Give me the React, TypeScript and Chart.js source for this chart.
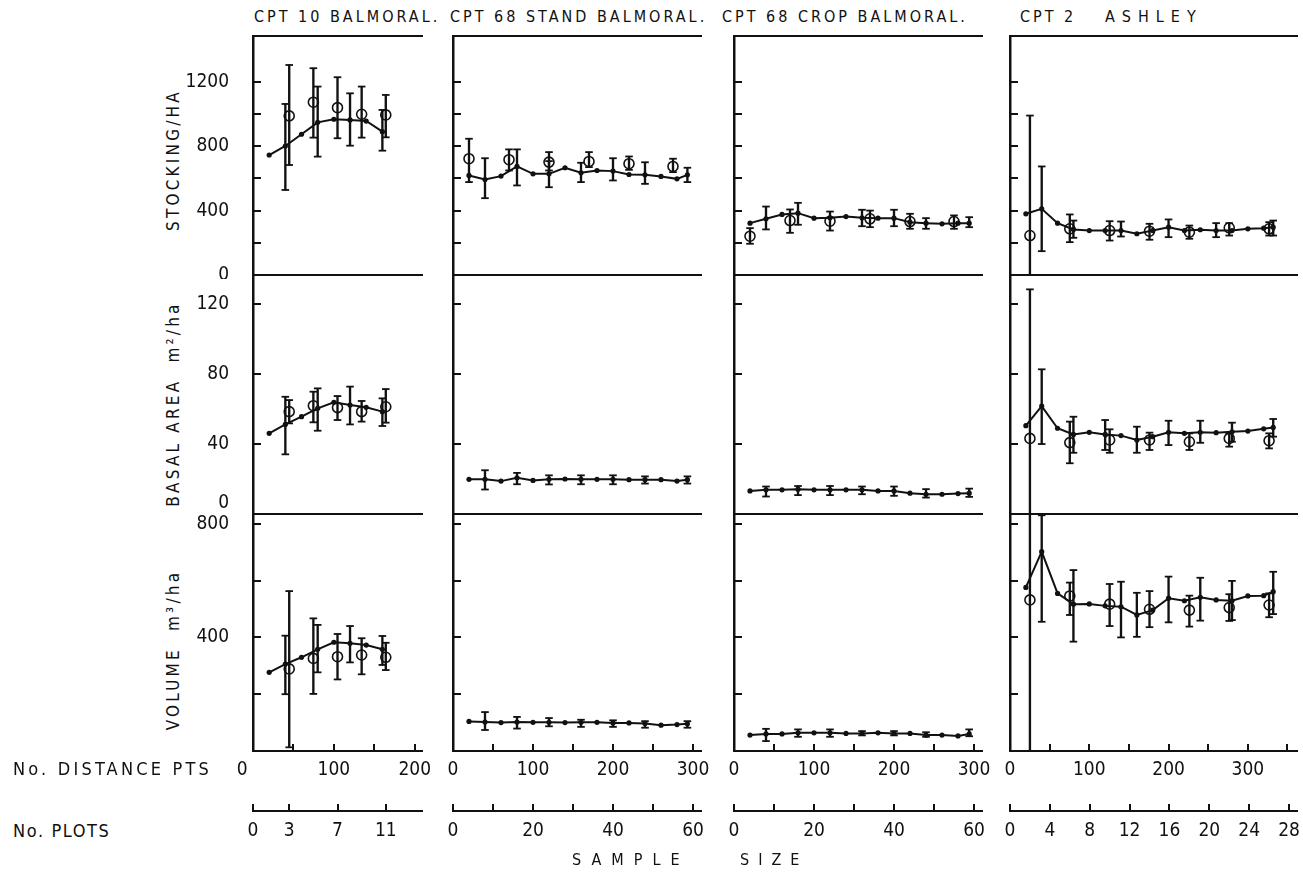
import React, { useEffect, useRef } from "react";
import { Chart, registerables } from "chart.js";

Chart.register(...registerables);

const FONT = '"DejaVu Sans Condensed", "Liberation Sans Narrow", "DejaVu Sans", sans-serif';
const INK = "#111111";

// ---------------- text ----------------
const COLUMN_TITLES = ["CPT 10 BALMORAL.", "CPT 68 STAND BALMORAL.", "CPT 68 CROP BALMORAL.", "CPT 2", "ASHLEY"];
const ROW_TITLES = ["STOCKING/HA", "BASAL AREA  m²/ha", "VOLUME  m³/ha"];

// ---------------- tick values ----------------
const STOCK_TICKS = [0, 200, 400, 600, 800, 1000, 1200];
const STOCK_LABELS = [0, 400, 800, 1200];
const BASAL_TICKS = [0, 40, 80, 120];
const BASAL_LABELS = [0, 40, 80, 120];
const VOL_TICKS = [0, 200, 400, 600, 800];
const VOL_LABELS = [400, 800];

const DIST_TICKS_C1 = [0, 50, 100, 150, 200];
const DIST_TICKS_C2 = [0, 50, 100, 150, 200, 250, 300];
const DIST_TICKS_C3 = [0, 50, 100, 150, 200, 250, 300];
const DIST_TICKS_C4 = [0, 50, 100, 150, 200, 250, 300, 350];
const DIST_LABELS = [0, 100, 200, 300];

const PLOT_TICKS_C1 = [0, 3, 7, 11];
const PLOT_TICKS_C2 = [0, 10, 20, 30, 40, 50, 60];
const PLOT_TICKS_C3 = [0, 10, 20, 30, 40, 50, 60];
const PLOT_TICKS_C4 = [0, 4, 8, 12, 16, 20, 24, 28];
const PLOT_LABELS_C1 = [0, 3, 7, 11];
const PLOT_LABELS_C23 = [0, 20, 40, 60];
const PLOT_LABELS_C4 = [0, 4, 8, 12, 16, 20, 24, 28];

// ---------------- CPT 10 BALMORAL ----------------
const DIST_C1 = [20, 40, 60, 80, 100, 120, 140, 160];
const PLOTS_C1 = [3, 5, 7, 9, 11];
const STOCK_C1 = [745, 801, 874, 948, 967, 963, 956, 890];
const STOCK_C1_ERR = [[40, 528, 1062], [80, 735, 1170], [120, 803, 1128], [160, 772, 1025]];
const STOCK_C1_PLOT = [988, 1073, 1039, 998, 994];
const STOCK_C1_PLOT_ERR = [[3, 683, 1304], [5, 853, 1284], [7, 849, 1228], [9, 853, 1170], [11, 855, 1118]];
const BASAL_C1 = [46.1, 51.2, 55.6, 60.4, 63.8, 62.3, 61.0, 58.5];
const BASAL_C1_ERR = [[40, 34.1, 67], [80, 47.6, 71.8], [120, 51.2, 72.8], [160, 50.3, 66.1]];
const BASAL_C1_PLOT = [58.5, 61.9, 60.8, 58.5, 61.3];
const BASAL_C1_PLOT_ERR = [[3, 51.8, 65.1], [5, 52.4, 69.9], [7, 53.7, 67.4], [9, 52.8, 64.6], [11, 52.2, 71.4]];
const VOL_C1 = [277, 306, 330, 358, 383, 379, 373, 358];
const VOL_C1_ERR = [[40, 200, 406], [80, 277, 444], [120, 312, 440], [160, 303, 405]];
const VOL_C1_PLOT = [289, 326, 332, 338, 330];
const VOL_C1_PLOT_ERR = [[3, 13, 563], [5, 201, 467], [7, 252, 412], [9, 270, 397], [11, 285, 381]];

// ---------------- CPT 68 STAND BALMORAL ----------------
const DIST_C2 = [20, 40, 60, 80, 100, 120, 140, 160, 180, 200, 220, 240, 260, 280, 293];
const PLOTS_C2 = [4, 14, 24, 34, 44, 55];
const STOCK_C2 = [618, 593, 614, 674, 628, 628, 666, 635, 649, 645, 624, 622, 612, 597, 622];
const STOCK_C2_ERR = [[40, 477, 725], [80, 556, 780], [120, 545, 707], [160, 577, 697], [200, 587, 725], [240, 566, 700], [293, 577, 666]];
const STOCK_C2_PLOT = [722, 716, 701, 705, 691, 674];
const STOCK_C2_PLOT_ERR = [[4, 577, 846], [14, 649, 780], [24, 649, 763], [34, 670, 763], [44, 653, 736], [55, 639, 722]];
const BASAL_C2 = [19.8, 19.8, 18.8, 20.7, 19.2, 19.8, 20.0, 19.8, 19.8, 19.8, 19.6, 19.6, 19.6, 18.8, 19.6];
const BASAL_C2_ERR = [[40, 14.0, 25.0], [80, 17.0, 23.5], [120, 16.9, 22.1], [160, 17.0, 22.1], [200, 17.0, 22.1], [240, 17.4, 21.5], [293, 17.4, 21.5]];
const VOL_C2 = [104, 102, 100, 102, 101, 101, 100, 101, 101, 99, 99, 97, 91, 93, 96];
const VOL_C2_ERR = [[40, 74, 137], [80, 79, 120], [120, 87, 116], [160, 85, 110], [200, 85, 108], [240, 82, 105], [293, 82, 105]];

// ---------------- CPT 68 CROP BALMORAL ----------------
const DIST_C3 = [20, 40, 60, 80, 100, 120, 140, 160, 180, 200, 220, 240, 260, 280, 294];
const PLOTS_C3 = [4, 14, 24, 34, 44, 55];
const STOCK_C3 = [322, 349, 376, 384, 353, 355, 363, 355, 353, 353, 328, 322, 318, 322, 322];
const STOCK_C3_ERR = [[40, 283, 425], [80, 312, 448], [160, 303, 405], [200, 303, 405], [240, 287, 353], [294, 297, 359]];
const STOCK_C3_PLOT = [241, 338, 334, 349, 332, 332];
const STOCK_C3_PLOT_ERR = [[4, 194, 291], [14, 262, 407], [24, 276, 394], [34, 297, 400], [44, 287, 380], [55, 287, 370]];
const BASAL_C3 = [13.2, 13.8, 13.8, 14.2, 13.8, 13.8, 13.8, 13.8, 13.2, 13.2, 11.9, 11.3, 11.3, 11.7, 11.9];
const BASAL_C3_ERR = [[40, 10.0, 15.7], [80, 10.8, 16.0], [120, 10.8, 16.0], [160, 11.3, 15.7], [200, 10.4, 15.7], [240, 9.4, 14.2], [294, 9.8, 14.5]];
const VOL_C3 = [56, 60, 60, 64, 64, 64, 62, 62, 64, 62, 62, 56, 56, 53, 60];
const VOL_C3_ERR = [[40, 35, 78], [80, 50, 76], [120, 50, 76], [160, 55, 70], [200, 55, 70], [240, 50, 66], [294, 52, 76]];

// ---------------- CPT 2 ASHLEY ----------------
const DIST_C4 = [20, 40, 60, 80, 100, 120, 140, 160, 180, 200, 220, 240, 260, 280, 300, 320, 332];
const PLOTS_C4 = [2, 6, 10, 14, 18, 22, 26];
const STOCK_C4 = [380, 411, 322, 283, 276, 276, 276, 256, 276, 297, 276, 281, 276, 276, 287, 291, 297];
const STOCK_C4_ERR = [[40, 148, 674], [80, 231, 338], [140, 239, 332], [200, 235, 345], [260, 235, 322], [332, 245, 338]];
const STOCK_C4_PLOT = [245, 287, 276, 272, 266, 293, 287];
const STOCK_C4_PLOT_ERR = [[2, -300, 990], [6, 204, 376], [10, 214, 334], [14, 219, 318], [18, 225, 307], [22, 245, 322], [26, 245, 328]];
const BASAL_C4 = [50.5, 61.7, 49.0, 45.5, 46.7, 45.5, 44.8, 42.3, 44.2, 46.7, 46.1, 46.7, 46.5, 47.0, 47.4, 48.7, 49.5];
const BASAL_C4_ERR = [[40, 40, 82.7], [80, 35, 55.6], [120, 36.6, 53.7], [160, 35, 49.9], [200, 39.4, 53.3], [240, 40.7, 53.3], [280, 41.3, 52.2], [332, 44.2, 54.3]];
const BASAL_C4_PLOT = [43.2, 40.8, 42.3, 42.3, 41.3, 43.2, 41.9];
const BASAL_C4_PLOT_ERR = [[2, -50, 128.4], [6, 29, 52.8], [10, 35, 48.4], [14, 36.6, 46.5], [18, 36.6, 46.1], [22, 38.5, 46.1], [26, 37.5, 46.1]];
const VOL_C4 = [576, 702, 555, 517, 518, 511, 508, 479, 496, 538, 529, 541, 532, 529, 546, 547, 561];
const VOL_C4_ERR = [[40, 455, 830], [80, 385, 637], [140, 400, 596], [160, 402, 557], [200, 453, 614], [240, 459, 610], [280, 461, 599], [332, 482, 631]];
const VOL_C4_PLOT = [532, 546, 517, 499, 496, 505, 514];
const VOL_C4_PLOT_ERR = [[2, -100, 1000], [6, 479, 593], [10, 440, 588], [14, 436, 563], [18, 438, 547], [22, 458, 552], [26, 471, 555]];

// ---------------- layout (pixels of the page) ----------------
const COL_X0 = [253, 453, 734, 1010];
const COL_X1 = [422, 701, 982, 1297];
const COL_DMAX = [209, 310, 310, 362];
const COL_PMAX = [14.0, 62, 62, 28.8];
const ROW_Y0 = [36, 275, 514];
const ROW_Y1 = [275, 514, 751];
const ROW_YMAX = [1484, 136.6, 834.5];
const PLOT_AXIS_Y = 811;

const ROW_TICKS = [STOCK_TICKS, BASAL_TICKS, VOL_TICKS];
const ROW_LABELS = [STOCK_LABELS, BASAL_LABELS, VOL_LABELS];
const DIST_TICKS = [DIST_TICKS_C1, DIST_TICKS_C2, DIST_TICKS_C3, DIST_TICKS_C4];
const PLOT_TICKS = [PLOT_TICKS_C1, PLOT_TICKS_C2, PLOT_TICKS_C3, PLOT_TICKS_C4];
const PLOT_LABELS = [PLOT_LABELS_C1, PLOT_LABELS_C23, PLOT_LABELS_C23, PLOT_LABELS_C4];

type Err = number[];
interface PanelSpec {
  col: number;
  row: number;
  dist: number[];
  vals: number[];
  errs: Err[];
  plots?: number[];
  plotVals?: number[];
  plotErrs?: Err[];
}

const PANELS: PanelSpec[] = [
  { col: 0, row: 0, dist: DIST_C1, vals: STOCK_C1, errs: STOCK_C1_ERR, plots: PLOTS_C1, plotVals: STOCK_C1_PLOT, plotErrs: STOCK_C1_PLOT_ERR },
  { col: 0, row: 1, dist: DIST_C1, vals: BASAL_C1, errs: BASAL_C1_ERR, plots: PLOTS_C1, plotVals: BASAL_C1_PLOT, plotErrs: BASAL_C1_PLOT_ERR },
  { col: 0, row: 2, dist: DIST_C1, vals: VOL_C1, errs: VOL_C1_ERR, plots: PLOTS_C1, plotVals: VOL_C1_PLOT, plotErrs: VOL_C1_PLOT_ERR },
  { col: 1, row: 0, dist: DIST_C2, vals: STOCK_C2, errs: STOCK_C2_ERR, plots: PLOTS_C2, plotVals: STOCK_C2_PLOT, plotErrs: STOCK_C2_PLOT_ERR },
  { col: 1, row: 1, dist: DIST_C2, vals: BASAL_C2, errs: BASAL_C2_ERR },
  { col: 1, row: 2, dist: DIST_C2, vals: VOL_C2, errs: VOL_C2_ERR },
  { col: 2, row: 0, dist: DIST_C3, vals: STOCK_C3, errs: STOCK_C3_ERR, plots: PLOTS_C3, plotVals: STOCK_C3_PLOT, plotErrs: STOCK_C3_PLOT_ERR },
  { col: 2, row: 1, dist: DIST_C3, vals: BASAL_C3, errs: BASAL_C3_ERR },
  { col: 2, row: 2, dist: DIST_C3, vals: VOL_C3, errs: VOL_C3_ERR },
  { col: 3, row: 0, dist: DIST_C4, vals: STOCK_C4, errs: STOCK_C4_ERR, plots: PLOTS_C4, plotVals: STOCK_C4_PLOT, plotErrs: STOCK_C4_PLOT_ERR },
  { col: 3, row: 1, dist: DIST_C4, vals: BASAL_C4, errs: BASAL_C4_ERR, plots: PLOTS_C4, plotVals: BASAL_C4_PLOT, plotErrs: BASAL_C4_PLOT_ERR },
  { col: 3, row: 2, dist: DIST_C4, vals: VOL_C4, errs: VOL_C4_ERR, plots: PLOTS_C4, plotVals: VOL_C4_PLOT, plotErrs: VOL_C4_PLOT_ERR },
];

const tickFont = { family: FONT, size: 19 };

function noPadding(s: any) {
  s.paddingTop = 0;
  s.paddingBottom = 0;
  s.paddingLeft = 0;
  s.paddingRight = 0;
}

function errBarDataset(errs: Err[], xAxisID: string) {
  return {
    type: "bar",
    data: errs.map((e) => ({ x: e[0], y: [e[1], e[2]] })),
    backgroundColor: INK,
    borderWidth: 0,
    barThickness: 1.7,
    grouped: false,
    xAxisID,
    yAxisID: "y",
    clip: 0,
  };
}

function errCapDataset(errs: Err[], xAxisID: string) {
  return {
    type: "scatter",
    data: errs.flatMap((e) => [
      { x: e[0], y: e[1] },
      { x: e[0], y: e[2] },
    ]),
    pointStyle: "line",
    pointRadius: 3.8,
    pointHoverRadius: 3.8,
    pointBorderWidth: 1.8,
    pointBorderColor: INK,
    borderColor: INK,
    showLine: false,
    xAxisID,
    yAxisID: "y",
    clip: 0,
  };
}

function PanelChart({ spec }: { spec: PanelSpec }) {
  const ref = useRef<HTMLCanvasElement>(null);
  const { col, row } = spec;
  const isBottom = row === 2;
  const yw = col === 0 ? 90 : 6;
  const PT = 5;
  const PR = 24;
  const xh = isBottom ? 44 : 4;
  const x0 = COL_X0[col];
  const x1 = COL_X1[col];
  const y0 = ROW_Y0[row];
  const y1 = ROW_Y1[row];
  const left = x0 - yw;
  const top = y0 - PT;
  const w = yw + (x1 - x0) + PR;
  const h = PT + (y1 - y0) + xh;

  useEffect(() => {
    const canvas = ref.current!;
    const datasets: any[] = [];
    datasets.push({
      type: "line",
      data: spec.dist.map((d, i) => ({ x: d, y: spec.vals[i] })),
      borderColor: INK,
      borderWidth: 2,
      pointRadius: 2.6,
      pointHoverRadius: 2.6,
      pointBackgroundColor: INK,
      pointBorderWidth: 0,
      tension: 0,
      xAxisID: "x",
      yAxisID: "y",
      clip: 0,
    });
    datasets.push(errBarDataset(spec.errs, "x"));
    datasets.push(errCapDataset(spec.errs, "x"));
    if (spec.plots && spec.plotVals && spec.plotErrs) {
      const pv = spec.plotVals;
      datasets.push({
        type: "scatter",
        data: spec.plots.map((p, i) => ({ x: p, y: pv[i] })),
        pointStyle: "circle",
        pointRadius: 5,
        pointHoverRadius: 5,
        pointBorderWidth: 1.6,
        pointBorderColor: INK,
        pointBackgroundColor: "rgba(0,0,0,0)",
        showLine: false,
        xAxisID: "xp",
        yAxisID: "y",
        clip: 0,
      });
      datasets.push(errBarDataset(spec.plotErrs, "xp"));
      datasets.push(errCapDataset(spec.plotErrs, "xp"));
    }

    const chart = new Chart(canvas, {
      type: "scatter",
      data: { datasets },
      options: {
        animation: false,
        responsive: false,
        devicePixelRatio: 1,
        events: [],
        layout: { autoPadding: false, padding: { top: PT, right: PR, left: 0, bottom: 0 } },
        plugins: { legend: { display: false }, tooltip: { enabled: false } },
        scales: {
          x: {
            type: "linear",
            position: "bottom",
            min: 0,
            max: COL_DMAX[col],
            offset: false,
            afterBuildTicks: (s: any) => {
              s.ticks = DIST_TICKS[col].map((v) => ({ value: v }));
            },
            afterFit: (s: any) => {
              s.height = xh;
              noPadding(s);
            },
            grid: { display: isBottom, drawOnChartArea: false, drawTicks: true, tickLength: -7, lineWidth: 2, color: INK, offset: false },
            border: { display: true, width: 2, color: INK },
            ticks: {
              display: isBottom,
              autoSkip: false,
              maxRotation: 0,
              padding: 15,
              color: INK,
              font: tickFont,
              callback: (v: any) => (DIST_LABELS.includes(v) ? (col === 0 && v === 0 ? "0    " : String(v)) : ""),
            },
          },
          xp: {
            type: "linear",
            position: "top",
            min: 0,
            max: COL_PMAX[col],
            offset: false,
            afterFit: (s: any) => {
              s.height = 0;
              noPadding(s);
            },
            grid: { display: false, offset: false },
            border: { display: true, width: 2, color: INK },
            ticks: { display: false },
          },
          y: {
            type: "linear",
            position: "left",
            min: 0,
            max: ROW_YMAX[row],
            afterBuildTicks: (s: any) => {
              s.ticks = ROW_TICKS[row].map((v) => ({ value: v }));
            },
            afterFit: (s: any) => {
              s.width = yw;
              noPadding(s);
            },
            grid: { display: true, drawOnChartArea: false, drawTicks: true, tickLength: -8, lineWidth: 2, color: INK },
            border: { display: true, width: 2.5, color: INK },
            ticks: {
              display: col === 0,
              autoSkip: false,
              padding: 32,
              color: INK,
              font: tickFont,
              callback: (v: any) => (ROW_LABELS[row].includes(v) ? (row === 1 && v === 0 ? ["0", ""] : String(v)) : ""),
            },
          },
        },
      } as any,
    } as any);
    return () => chart.destroy();
  }, []);

  return (
    <canvas
      ref={ref}
      width={w}
      height={h}
      style={{ position: "absolute", left, top, width: w, height: h }}
    />
  );
}

function PlotAxis({ col }: { col: number }) {
  const ref = useRef<HTMLCanvasElement>(null);
  const PAD = 12;
  const PT = 10;
  const above = 16;
  const h = 54;
  const x0 = COL_X0[col];
  const x1 = COL_X1[col];
  const left = x0 - PAD;
  const top = PLOT_AXIS_Y - above;
  const w = x1 - x0 + 2 * PAD;
  const xh = h - above;

  useEffect(() => {
    const chart = new Chart(ref.current!, {
      type: "scatter",
      data: { datasets: [] },
      options: {
        animation: false,
        responsive: false,
        devicePixelRatio: 1,
        events: [],
        layout: { autoPadding: false, padding: { top: PT, left: PAD, right: PAD, bottom: 0 } },
        plugins: { legend: { display: false }, tooltip: { enabled: false } },
        scales: {
          x: {
            type: "linear",
            position: "bottom",
            min: 0,
            max: COL_PMAX[col],
            afterBuildTicks: (s: any) => {
              s.ticks = PLOT_TICKS[col].map((v) => ({ value: v }));
            },
            afterFit: (s: any) => {
              s.height = xh;
              noPadding(s);
            },
            grid: { display: true, drawOnChartArea: false, drawTicks: true, tickLength: -7, lineWidth: 2, color: INK },
            border: { display: true, width: 2, color: INK },
            ticks: {
              autoSkip: false,
              maxRotation: 0,
              padding: 16,
              color: INK,
              font: tickFont,
              callback: (v: any) => (PLOT_LABELS[col].includes(v) ? String(v) : ""),
            },
          },
          y: { display: false, min: 0, max: 1 },
        },
      } as any,
    } as any);
    return () => chart.destroy();
  }, []);

  return (
    <canvas
      ref={ref}
      width={w}
      height={h}
      style={{ position: "absolute", left, top, width: w, height: h }}
    />
  );
}

const textBase: React.CSSProperties = {
  position: "absolute",
  fontFamily: FONT,
  color: INK,
  whiteSpace: "pre",
  lineHeight: 1,
};

const TITLE_LEFT = [254, 450, 722, 1020, 1105];
const TITLE_SPACING = [3, 3, 3, 3, 7];
const ROW_TITLE_Y = [160, 404, 650];

export default function App() {
  return (
    <div style={{ position: "absolute", left: 0, top: 0, width: 1303, height: 875, background: "#ffffff", overflow: "hidden" }}>
      {COLUMN_TITLES.map((t, i) => (
        <div key={t} style={{ ...textBase, left: TITLE_LEFT[i], top: 9, fontSize: 16, letterSpacing: TITLE_SPACING[i] }}>
          {t}
        </div>
      ))}
      {ROW_TITLES.map((t, i) => (
        <div
          key={t}
          style={{
            ...textBase,
            left: 173,
            top: ROW_TITLE_Y[i],
            fontSize: 17,
            letterSpacing: 3.2,
            transform: "translate(-50%, -50%) rotate(-90deg)",
          }}
        >
          {t}
        </div>
      ))}
      {PANELS.map((p) => (
        <PanelChart key={`${p.col}-${p.row}`} spec={p} />
      ))}
      {[0, 1, 2, 3].map((c) => (
        <PlotAxis key={c} col={c} />
      ))}
      <div style={{ ...textBase, left: 13, top: 760, fontSize: 18, letterSpacing: 3.2 }}>No. DISTANCE PTS</div>
      <div style={{ ...textBase, left: 13, top: 822, fontSize: 18, letterSpacing: 1.6 }}>No. PLOTS</div>
      <div style={{ ...textBase, left: 572, top: 852, fontSize: 16, letterSpacing: 10 }}>SAMPLE</div>
      <div style={{ ...textBase, left: 740, top: 852, fontSize: 16, letterSpacing: 9 }}>SIZE</div>
    </div>
  );
}
